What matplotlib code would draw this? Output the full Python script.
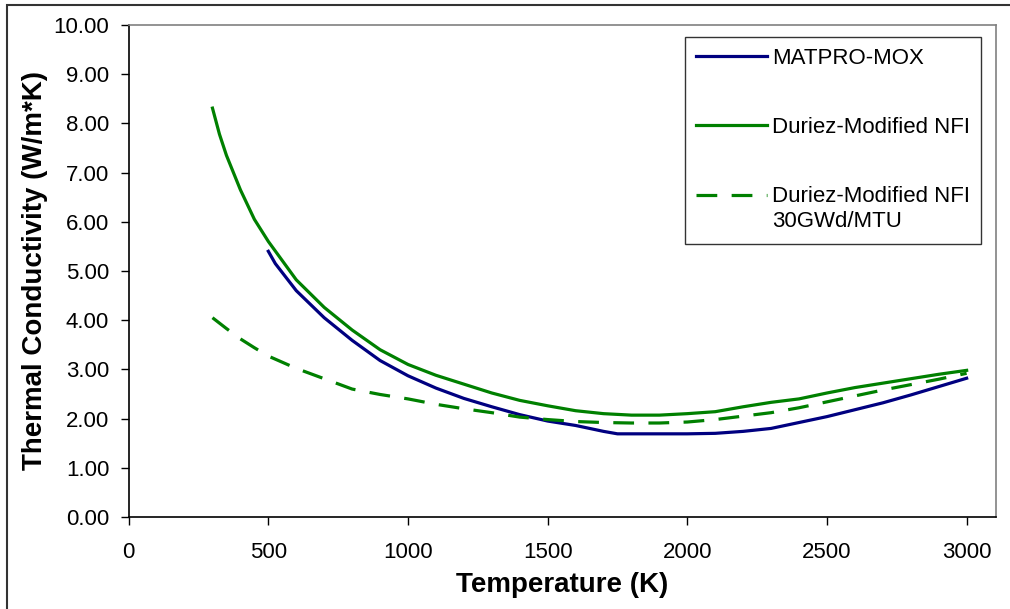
import matplotlib
matplotlib.use('Agg')
import matplotlib.pyplot as plt
import matplotlib.patches as mpatches
from matplotlib.legend_handler import HandlerLine2D
import numpy as np

plt.rcParams['font.family'] = ['Liberation Sans', 'DejaVu Sans']

# MATPRO-MOX
t_mox = [500, 525, 600, 700, 800, 900, 1000, 1100, 1200, 1300, 1400, 1500, 1600, 1700,
         1750, 1800, 1900, 2000, 2100, 2200, 2300, 2400, 2500, 2600, 2700, 2800, 2900, 3000]
k_mox = [5.40, 5.15, 4.60, 4.05, 3.59, 3.18, 2.87, 2.62, 2.41, 2.24, 2.08, 1.95, 1.86, 1.74,
         1.69, 1.69, 1.69, 1.69, 1.70, 1.74, 1.80, 1.92, 2.04, 2.18, 2.32, 2.48, 2.65, 2.82]

# Duriez-Modified NFI
t_nfi = [300, 325, 350, 400, 450, 500, 600, 700, 800, 900, 1000, 1100, 1200, 1300, 1400,
         1500, 1600, 1700, 1800, 1900, 2000, 2100, 2200, 2300, 2400, 2500, 2600, 2700, 2800, 2900, 3000]
k_nfi = [8.31, 7.78, 7.35, 6.65, 6.05, 5.60, 4.82, 4.26, 3.80, 3.40, 3.10, 2.88, 2.70, 2.52, 2.37,
         2.26, 2.16, 2.10, 2.07, 2.07, 2.10, 2.14, 2.24, 2.33, 2.40, 2.52, 2.63, 2.72, 2.81, 2.90, 2.98]

# Duriez-Modified NFI 30GWd/MTU
t_30 = [300, 350, 400, 450, 500, 600, 700, 800, 900, 1000, 1100, 1200, 1300, 1400, 1500,
        1600, 1700, 1800, 1900, 2000, 2100, 2200, 2300, 2400, 2500, 2600, 2700, 2800, 2900, 3000]
k_30 = [4.05, 3.83, 3.62, 3.44, 3.27, 3.02, 2.81, 2.60, 2.49, 2.40, 2.29, 2.20, 2.12, 2.03, 1.98,
        1.94, 1.92, 1.91, 1.91, 1.93, 1.98, 2.05, 2.12, 2.22, 2.34, 2.46, 2.58, 2.69, 2.80, 2.92]

xticks = [0, 500, 1000, 1500, 2000, 2500, 3000]
yticks = [0, 1, 2, 3, 4, 5, 6, 7, 8, 9, 10]


class TopLineHandler(HandlerLine2D):
    # put the legend line next to the first line of a two-line label
    def create_artists(self, legend, orig_handle, xdescent, ydescent, width, height,
                       fontsize, trans):
        arts = super().create_artists(legend, orig_handle, xdescent, ydescent, width,
                                      height, fontsize, trans)
        for a in arts:
            a.set_ydata(np.asarray(a.get_ydata()) + 10.5)
        return arts


fig = plt.figure(figsize=(10.1, 6.09), dpi=100)
ax = fig.add_axes([0.1274, 0.1511, 0.8587, 0.8079])

ax.plot(t_mox, k_mox, color='#000080', lw=2.3, label='MATPRO-MOX')
ax.plot(t_nfi, k_nfi, color='#008000', lw=2.3, label='Duriez-Modified NFI')
l3, = ax.plot(t_30, k_30, color='#008000', lw=2.3, dashes=(6.5, 4.5),
              label='Duriez-Modified NFI\n30GWd/MTU')

ax.set_xlim(0, 3105)
ax.set_ylim(0, 10)
ax.set_xticks(xticks)
ax.set_yticks(yticks)
ax.set_yticklabels(['%.2f' % v for v in yticks])
ax.tick_params(axis='y', direction='out', length=6, width=1, labelsize=16, pad=8)
ax.tick_params(axis='x', direction='out', length=6, width=1, labelsize=16, pad=12)

for s in ['top', 'right']:
    ax.spines[s].set_color('#808080')
    ax.spines[s].set_linewidth(1.2)
for s in ['left', 'bottom']:
    ax.spines[s].set_color('black')
    ax.spines[s].set_linewidth(1.2)

ax.set_xlabel('Temperature (K)', fontsize=20, fontweight='bold')
ax.set_ylabel('Thermal Conductivity (W/m*K)', fontsize=20, fontweight='bold')
ax.xaxis.set_label_coords(0.5, -0.112)
ax.yaxis.set_label_coords(-0.093, 0.5)

leg = ax.legend(loc='upper right', bbox_to_anchor=(0.9827, 0.9756), borderaxespad=0,
                fontsize=16, frameon=True, fancybox=False, handlelength=3.2,
                handletextpad=0.2, labelspacing=2.15, borderpad=0.5,
                handler_map={l3: TopLineHandler()})
leg.get_frame().set_edgecolor('black')
leg.get_frame().set_linewidth(1.0)
leg.get_texts()[2].set_linespacing(1.3)

# outer chart border (left and top visible)
fig.add_artist(mpatches.Rectangle((7 / 1010, -0.1), 1.2, (609 - 5) / 609 + 0.1,
                                  transform=fig.transFigure, fill=False,
                                  edgecolor='#333333', linewidth=1.5, clip_on=False))

fig.savefig('out.png', dpi=100)
